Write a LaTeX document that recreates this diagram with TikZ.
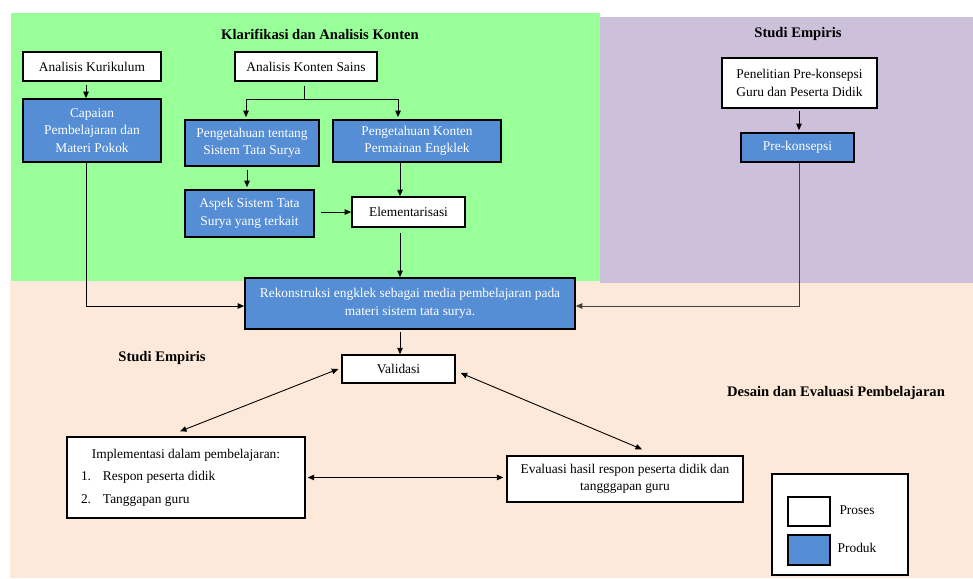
\documentclass[tikz,border=0pt]{standalone}
\usepackage{fontspec}
\setmainfont{Liberation Serif}
\usetikzlibrary{arrows.meta}
\definecolor{bggreen}{HTML}{99FF99}
\definecolor{bgpurple}{HTML}{CCC0DA}
\definecolor{bgpeach}{HTML}{FDE9D9}
\definecolor{pblue}{HTML}{558ED5}
\begin{document}
\begin{tikzpicture}[x=1pt,y=-1pt,
  font=\fontsize{13.4}{17.5}\selectfont,
  box/.style={draw=black, line width=1.7pt, fill=white, inner sep=0pt, align=center},
  prod/.style={box, fill=pblue, text=white},
  arr/.style={line width=0.9pt, -{Triangle[length=6.5pt,width=5.5pt]}},
  darr/.style={line width=0.9pt, {Triangle[length=6.5pt,width=5.5pt]}-{Triangle[length=6.5pt,width=5.5pt]}},
  ttl/.style={font=\fontsize{14.6}{17}\selectfont\bfseries}]
\useasboundingbox (0,0) rectangle (973,578);
% backgrounds
\fill[bggreen] (11,13) rectangle (600,281);
\fill[bgpeach] (10,281) rectangle (973,578);
\fill[bgpurple] (600,17) rectangle (973,283);
% titles
\node[ttl] (t1) at (320,34) {Klarifikasi dan Analisis Konten};
\node[ttl] (t2) at (798,34) {Studi Empiris};
\node[ttl] (t3) at (162,358) {Studi Empiris};
\node[ttl] (t4) at (836,393) {Desain dan Evaluasi Pembelajaran};
% nodes
\node[box, minimum width=138pt, minimum height=29pt] (akur) at (92,66.5) {Analisis Kurikulum};
\node[box, minimum width=142pt, minimum height=29pt] (aks) at (306,66.5) {Analisis Konten Sains};
\node[prod, minimum width=138pt, minimum height=63pt] (cap) at (92,130.5) {Capaian\\Pembelajaran dan\\Materi Pokok};
\node[prod, minimum width=134pt, minimum height=46pt] (pt) at (252,143) {Pengetahuan tentang\\Sistem Tata Surya};
\node[prod, minimum width=168pt, minimum height=42pt] (pk) at (417,141) {Pengetahuan Konten\\Permainan Engklek};
\node[prod, minimum width=129pt, minimum height=47pt] (asp) at (249.5,213.5) {Aspek Sistem Tata\\Surya yang terkait};
\node[box, minimum width=113pt, minimum height=30pt] (elem) at (408.5,212) {Elementarisasi};
\node[prod, minimum width=330pt, minimum height=51pt] (rek) at (410,303.5) {Rekonstruksi engklek sebagai media pembelajaran pada\\materi sistem tata surya.};
\node[box, minimum width=155pt, minimum height=50pt] (pen) at (799.5,83) {Penelitian Pre-konsepsi\\Guru dan Peserta Didik};
\node[prod, minimum width=113pt, minimum height=29pt] (pre) at (797.5,147.5) {Pre-konsepsi};
\node[box, line width=1.4pt, minimum width=113pt, minimum height=28pt] (val) at (398.5,369) {Validasi};
\node[box, line width=1.4pt, minimum width=238pt, minimum height=81pt] (imp) at (186,477.5)
  {\parbox{210pt}{{\centering Implementasi dalam pembelajaran:\par}\vspace{5pt}%
   \raggedright\makebox[22pt][l]{1.}Respon peserta didik\par\vspace{5pt}%
   \makebox[22pt][l]{2.}Tanggapan guru\par}};
\node[box, line width=1.4pt, minimum width=236pt, minimum height=46pt] (eva) at (625,479) {Evaluasi hasil respon peserta didik dan\\tangggapan guru};
% legend
\node[box, line width=1.4pt, minimum width=136pt, minimum height=101pt] (leg) at (840,524.5) {};
\node[box, minimum width=42pt, minimum height=29pt] (lp) at (809,511.5) {};
\node[prod, minimum width=42pt, minimum height=30pt] (lk) at (809,550) {};
\node (lpt) at (857,510) {Proses};
\node (lkt) at (857,548) {Produk};
% connectors
\draw[arr, shorten <=3pt] ([xshift=-6pt]akur.south) -- ([xshift=-6pt]cap.north);
\draw[arr] ([xshift=-6pt]cap.south) |- ([yshift=-2.5pt]rek.west);
\coordinate (br) at (304,99);
\draw[line width=0.9pt, shorten <=4pt] (aks.south -| br) -- (br);
\draw[arr, shorten >=2pt] (br) -| ([xshift=-6pt]pt.north);
\draw[arr, shorten >=2pt] (br) -| ([xshift=-19pt]pk.north);
\draw[arr, shorten <=3pt, shorten >=2pt] ([xshift=-5pt]pt.south) -- ([xshift=-5pt]pt.south |- asp.north);
\draw[arr] ([xshift=-17pt]pk.south) -- ([xshift=-17pt]pk.south |- elem.north);
\draw[arr, shorten <=6pt] (asp.east |- elem.west) -- (elem.west);
\draw[arr, shorten <=5pt] ([xshift=-8.5pt]elem.south) -- ([xshift=-8.5pt]elem.south |- rek.north);
\draw[arr, shorten <=2pt, shorten >=2pt] ([xshift=-0.5pt]pen.south) -- ([xshift=-0.5pt]pen.south |- pre.north);
\draw[arr, draw=black!75] ([xshift=1.5pt]pre.south) |- ([yshift=-2.5pt]rek.east);
\draw[arr, shorten <=2pt] ([xshift=-10pt]rek.south) -- ([xshift=-10pt]rek.south |- val.north);
\draw[darr] ([xshift=-3pt]val.west) -- ([xshift=-6pt,yshift=5pt]imp.north);
\draw[darr] ([xshift=5pt,yshift=-4pt]val.east) -- ([xshift=17pt,yshift=6pt]eva.north);
\draw[darr] ([xshift=2pt]imp.east) -- ([xshift=-3pt]imp.east -| eva.west);
\end{tikzpicture}
\end{document}
